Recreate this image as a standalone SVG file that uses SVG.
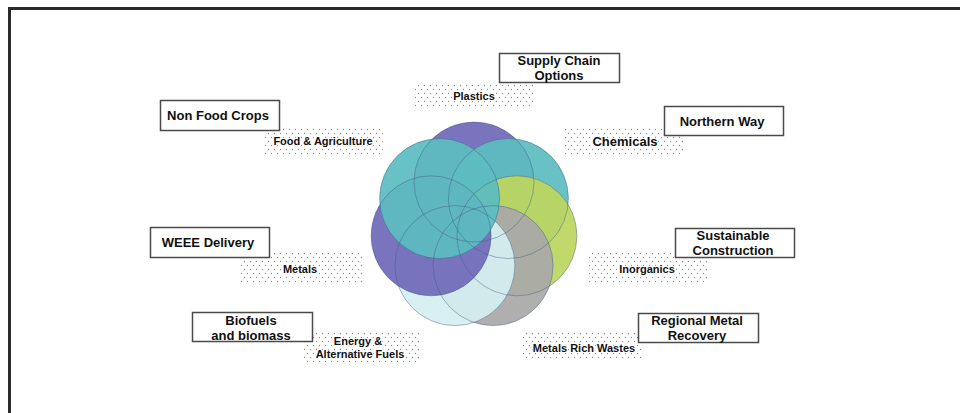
<svg xmlns="http://www.w3.org/2000/svg" width="960" height="413" viewBox="0 0 960 413">
  <defs>
    <!-- staggered dot screen used behind the sector labels -->
    <pattern id="dots" width="6" height="8" patternUnits="userSpaceOnUse">
      <circle cx="1.5" cy="1.5" r="0.65" fill="#8a8a8a"/>
      <circle cx="4.5" cy="5.5" r="0.65" fill="#8a8a8a"/>
    </pattern>
  </defs>
  <style>
    .frame { fill: none; stroke: #2a2a2a; stroke-width: 3; }
    .box { fill: #ffffff; stroke: #4a4a4a; stroke-width: 1.5; }
    .screen { fill: url(#dots); stroke: none; }
    .title { font-family: "Liberation Sans", Arial, sans-serif; font-weight: bold; font-size: 13px; fill: #111; text-anchor: middle; }
    .tag { font-family: "Liberation Sans", Arial, sans-serif; font-weight: bold; font-size: 11px; fill: #111; text-anchor: middle; stroke: #ffffff; stroke-width: 2.2; paint-order: stroke; }
    .tag-lg { font-size: 13px; }
    .petal { stroke: none; fill-opacity: 0.93; }
    .rim { fill: none; stroke: #3d5a80; stroke-width: 0.8; stroke-opacity: 0.55; }
  </style>

  <rect width="960" height="413" fill="#ffffff"/>
  <!-- page border: top and left edges -->
  <path class="frame" d="M9.5,413 V8.5 H960"/>

  <!-- seven overlapping circles arranged in a ring -->
  <g id="ring">
    <circle class="petal" cx="474" cy="182" r="60" fill="#7069b9"/>
    <circle class="petal" cx="508.4" cy="198.5" r="60" fill="#5dbcc0"/>
    <circle class="petal" cx="516.9" cy="235.8" r="60" fill="#bcd65f"/>
    <circle class="petal" cx="493.1" cy="265.6" r="60" fill="#a9a9a9"/>
    <circle class="petal" cx="454.9" cy="265.6" r="60" fill="#d6eff1"/>
    <circle class="petal" cx="431.1" cy="235.8" r="60" fill="#7069b9"/>
    <circle class="petal" cx="439.6" cy="198.5" r="60" fill="#5dbcc0"/>
    <circle class="rim" cx="474" cy="182" r="60"/>
    <circle class="rim" cx="508.4" cy="198.5" r="60"/>
    <circle class="rim" cx="516.9" cy="235.8" r="60"/>
    <circle class="rim" cx="493.1" cy="265.6" r="60"/>
    <circle class="rim" cx="454.9" cy="265.6" r="60"/>
    <circle class="rim" cx="431.1" cy="235.8" r="60"/>
    <circle class="rim" cx="439.6" cy="198.5" r="60"/>
  </g>

  <g id="plastics">
    <rect class="screen" x="415" y="82" width="118" height="26"/>
    <text class="tag" x="474" y="100">Plastics</text>
  </g>
  <g id="supply-chain-options">
    <rect class="box" x="499.5" y="53.5" width="120" height="29"/>
    <text class="title" x="559" y="65">Supply Chain</text>
    <text class="title" x="559" y="80">Options</text>
  </g>

  <g id="food-agriculture">
    <rect class="screen" x="263" y="127" width="120" height="28"/>
    <text class="tag" x="323" y="145">Food &amp; Agriculture</text>
  </g>
  <g id="non-food-crops">
    <rect class="box" x="160.5" y="100.5" width="119" height="30"/>
    <text class="title" x="218" y="120">Non Food Crops</text>
  </g>

  <g id="chemicals">
    <rect class="screen" x="565" y="127" width="118" height="28"/>
    <text class="tag tag-lg" x="625" y="146">Chemicals</text>
  </g>
  <g id="northern-way">
    <rect class="box" x="664.5" y="106.5" width="119" height="29"/>
    <text class="title" x="722" y="126">Northern Way</text>
  </g>

  <g id="metals">
    <rect class="screen" x="240" y="253" width="122" height="30"/>
    <text class="tag" x="300" y="273">Metals</text>
  </g>
  <g id="weee-delivery">
    <rect class="box" x="150.5" y="227.5" width="119" height="30"/>
    <text class="title" x="208" y="247">WEEE Delivery</text>
  </g>

  <g id="inorganics">
    <rect class="screen" x="587" y="253" width="120" height="30"/>
    <text class="tag" x="647" y="273">Inorganics</text>
  </g>
  <g id="sustainable-construction">
    <rect class="box" x="675.5" y="228.5" width="119" height="29"/>
    <text class="title" x="733" y="240">Sustainable</text>
    <text class="title" x="733" y="255">Construction</text>
  </g>

  <g id="energy-alternative-fuels">
    <rect class="screen" x="303" y="332" width="116" height="30"/>
    <text class="tag" x="358" y="345">Energy &amp;</text>
    <text class="tag" x="360" y="358">Alternative Fuels</text>
  </g>
  <g id="biofuels-biomass">
    <rect class="box" x="192.5" y="312.5" width="120" height="29"/>
    <text class="title" x="251" y="325">Biofuels</text>
    <text class="title" x="251" y="340">and biomass</text>
  </g>

  <g id="metals-rich-wastes">
    <rect class="screen" x="523" y="332" width="120" height="28"/>
    <text class="tag" x="584" y="352">Metals Rich Wastes</text>
  </g>
  <g id="regional-metal-recovery">
    <rect class="box" x="638.5" y="313.5" width="120" height="29"/>
    <text class="title" x="697" y="325">Regional Metal</text>
    <text class="title" x="697" y="340">Recovery</text>
  </g>
</svg>
